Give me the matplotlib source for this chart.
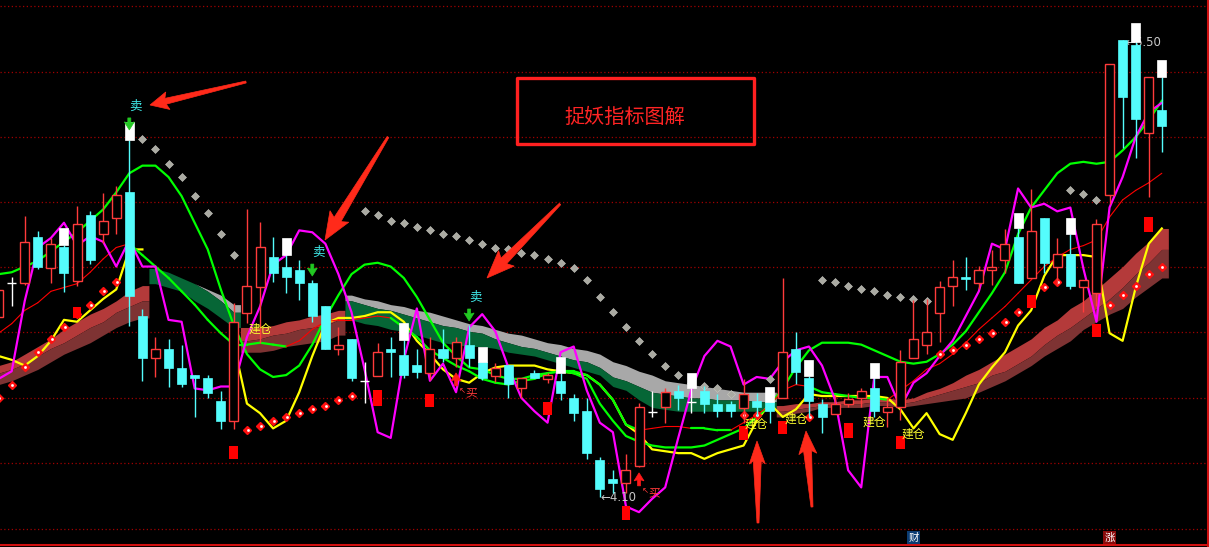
import numpy as np
import matplotlib
matplotlib.use("Agg")
import matplotlib.pyplot as plt
from matplotlib.patches import Rectangle, Polygon
from matplotlib.transforms import IdentityTransform

plt.rcParams['font.family'] = ['Noto Sans CJK SC', 'DejaVu Sans']

W, H, DPI = 1209, 547, 100

# ---------------- data (price units) ----------------
idx = np.arange(-1, 89)

opens = [5.047, 5.224, 5.224, 5.465, 5.302, 5.413, 5.234, 5.581, 5.481, 5.565,
         5.702, 5.050, 4.830, 4.877, 4.777, 4.740, 4.725, 4.604, 4.499, 5.066,
         5.203, 5.360, 5.308, 5.292, 5.224, 5.103, 4.877, 4.930, 4.709, 4.735,
         4.877, 4.846, 4.793, 4.751, 4.877, 4.830, 4.898, 4.809, 4.735, 4.793,
         4.672, 4.751, 4.719, 4.709, 4.620, 4.551, 4.294, 4.194, 4.173, 4.263,
         4.546, 4.572, 4.656, 4.599, 4.656, 4.588, 4.588, 4.567, 4.604, 4.599,
         4.620, 4.877, 4.725, 4.588, 4.536, 4.588, 4.620, 4.672, 4.546, 4.572,
         4.830, 4.898, 5.066, 5.208, 5.255, 5.224, 5.292, 5.344, 5.465, 5.250,
         5.565, 5.308, 5.376, 5.203, 5.171, 5.686, 6.500, 6.474, 6.011, 6.132]
highs = [5.197, 5.255, 5.576, 5.497, 5.460, 5.423, 5.628, 5.602, 5.696, 5.733,
         5.975, 5.087, 4.940, 4.930, 4.898, 4.740, 4.740, 4.656, 5.119, 5.612,
         5.544, 5.465, 5.371, 5.344, 5.239, 5.103, 4.993, 4.930, 4.809, 4.909,
         4.940, 4.924, 4.877, 4.940, 4.982, 4.940, 5.003, 4.809, 4.804, 4.793,
         4.725, 4.767, 4.751, 4.751, 4.641, 4.620, 4.310, 4.242, 4.326, 4.593,
         4.656, 4.672, 4.688, 4.672, 4.683, 4.641, 4.604, 4.719, 4.646, 4.599,
         5.250, 4.966, 4.735, 4.614, 4.635, 4.646, 4.672, 4.725, 4.620, 4.872,
         5.134, 5.140, 5.234, 5.344, 5.360, 5.313, 5.397, 5.507, 5.513, 5.717,
         5.565, 5.460, 5.481, 5.239, 5.560, 6.374, 6.500, 6.489, 6.306, 6.306]
lows = [5.040, 5.103, 5.213, 5.297, 5.224, 5.176, 5.208, 5.323, 5.434, 5.481,
        4.998, 4.709, 4.730, 4.677, 4.677, 4.520, 4.620, 4.457, 4.457, 5.014,
        4.909, 5.229, 5.171, 5.134, 5.019, 4.877, 4.846, 4.709, 4.593, 4.735,
        4.730, 4.725, 4.725, 4.714, 4.809, 4.783, 4.783, 4.714, 4.704, 4.620,
        4.620, 4.725, 4.698, 4.609, 4.499, 4.299, 4.100, 4.121, 4.121, 4.258,
        4.520, 4.488, 4.557, 4.541, 4.541, 4.520, 4.520, 4.488, 4.525, 4.488,
        4.620, 4.693, 4.520, 4.436, 4.536, 4.572, 4.572, 4.520, 4.467, 4.504,
        4.830, 4.851, 4.914, 5.103, 5.187, 5.192, 5.213, 5.276, 5.224, 5.250,
        5.276, 5.213, 5.192, 5.071, 5.103, 5.639, 5.933, 5.880, 5.675, 5.912]
closes = [5.187, 5.224, 5.439, 5.308, 5.429, 5.276, 5.534, 5.344, 5.549, 5.686,
          5.155, 4.830, 4.877, 4.777, 4.693, 4.725, 4.646, 4.499, 5.019, 5.208,
          5.413, 5.276, 5.255, 5.224, 5.050, 4.877, 4.898, 4.725, 4.709, 4.861,
          4.861, 4.740, 4.756, 4.877, 4.830, 4.914, 4.830, 4.725, 4.777, 4.693,
          4.725, 4.725, 4.740, 4.646, 4.541, 4.331, 4.142, 4.173, 4.242, 4.572,
          4.546, 4.651, 4.620, 4.599, 4.588, 4.551, 4.551, 4.641, 4.572, 4.551,
          4.861, 4.756, 4.604, 4.520, 4.588, 4.614, 4.656, 4.551, 4.572, 4.809,
          4.930, 4.966, 5.203, 5.255, 5.245, 5.292, 5.308, 5.429, 5.224, 5.497,
          5.329, 5.376, 5.208, 5.239, 5.534, 6.374, 6.201, 6.085, 6.306, 6.048]

# white overlay boxes
wb_idx = [4, 9, 21, 30, 36, 42, 52, 58, 61, 66, 77, 81, 86, 88]
wb_top = [5.513, 6.069, 5.460, 5.014, 4.888, 4.835, 4.751, 4.677, 4.819, 4.804, 5.591, 5.565, 6.589, 6.395]
wb_bot = [5.423, 5.975, 5.371, 4.924, 4.809, 4.751, 4.672, 4.599, 4.735, 4.725, 5.513, 5.481, 6.489, 6.306]

green_a = [5.27, 5.28, 5.31, 5.34, 5.39, 5.44, 5.49, 5.55, 5.61, 5.70,
           5.80, 5.84, 5.84, 5.78, 5.68, 5.54, 5.40, 5.19, 5.00, 4.85,
           4.77, 4.73, 4.74, 4.79, 4.90, 5.04, 5.16, 5.27, 5.32, 5.33,
           5.31, 5.25, 5.15, 5.03, 4.91, 4.84, 4.78, 4.77, 4.74, 4.72,
           4.72, 4.74, 4.75, 4.76, 4.75, 4.72, 4.59, 4.50, 4.42, 4.39,
           4.37, 4.36, 4.36, 4.36, 4.37, 4.40, 4.43, 4.46, 4.52, 4.58,
           4.67, 4.78, 4.87, 4.91, 4.91, 4.91, 4.90, 4.87, 4.84, 4.81,
           4.80, 4.81, 4.85, 4.90, 4.97, 5.07, 5.17, 5.28, 5.48, 5.62,
           5.71, 5.80, 5.85, 5.86, 5.85, 5.86, 5.92, 5.99, 6.08, 6.18]

trend_line = [4.96, 5.01, 5.08, 5.12, 5.18, 5.20, 5.22, 5.28, 5.35, 5.41,
              5.43, 5.37, 5.31, 5.25, 5.18, 5.11, 5.03, 4.96, 4.90, 4.90,
              4.91, 4.90, 4.89, 4.92, 4.98, 5.02, 5.03, 5.03, 5.04, 5.05,
              5.04, 4.99, 4.94, 4.87, 4.83, 4.79, 4.76, 4.72, 4.70, 4.69,
              4.71, 4.72, 4.75, 4.76, 4.76, 4.74, 4.69, 4.61, 4.48, 4.45,
              4.46, 4.47, 4.47, 4.46, 4.46, 4.45, 4.45, 4.49, 4.53, 4.58,
              4.66, 4.69, 4.68, 4.65, 4.64, 4.63, 4.62, 4.62, 4.61, 4.66,
              4.71, 4.77, 4.80, 4.85, 4.91, 4.98, 5.04, 5.10, 5.17, 5.24,
              5.31, 5.36, 5.40, 5.42, 5.45, 5.57, 5.66, 5.71, 5.75, 5.80]
trend_state = "r" * 10 + "g" * 13 + "r" * 7 + "g" * 20 + "r" * 3 + "g" * 4 + "r" * 5 + "g" * 7 + "r" * 21

magenta = [4.72, 4.76, 5.13, 5.41, 5.46, 5.54, 5.42, 5.47, 5.44, 5.31,
           5.45, 5.31, 5.31, 5.03, 5.02, 4.67, 4.66, 4.68, 4.68, 4.94,
           5.10, 5.32, 5.37, 5.50, 5.49, 5.43, 5.27, 5.07, 4.77, 4.44,
           4.41, 4.82, 5.09, 4.71, 4.80, 4.65, 4.99, 5.06, 4.97, 4.78,
           4.62, 4.55, 4.49, 4.86, 4.89, 4.66, 4.49, 4.44, 4.05, 4.02,
           4.09, 4.15, 4.41, 4.66, 4.84, 4.92, 4.89, 4.69, 4.73, 4.72,
           4.81, 4.87, 4.89, 4.79, 4.61, 4.24, 4.15, 4.73, 4.73, 4.57,
           4.70, 4.75, 4.84, 4.92, 5.05, 5.18, 5.43, 5.40, 5.72, 5.62,
           5.64, 5.60, 5.62, 5.30, 5.02, 5.62, 5.78, 5.99, 6.12, 6.17]

nan = np.nan
yellow = [4.84, 4.82, 4.79, 4.84, 4.92, 5.03, 5.02, 5.08, 5.14, 5.19,
          5.40, 5.40, nan, nan, nan, nan, nan, nan, 4.90, 4.59,
          4.54, 4.46, 4.50, 4.65, 4.84, 5.01, 5.04, 5.04, 5.05, 5.07,
          5.07, 5.02, 4.92, 4.85, 4.77, 4.72, 4.70, 4.75, 4.78, 4.79,
          4.79, 4.79, 4.77, 4.76, 4.75, 4.74, 4.69, 4.61, 4.48, 4.43,
          4.35, 4.34, 4.33, 4.33, 4.30, 4.33, 4.35, 4.37, 4.50, 4.59,
          4.52, 4.56, 4.64, 4.63, 4.63, 4.63, 4.63, 4.63, 4.62, 4.56,
          4.46, 4.54, 4.43, 4.40, 4.54, 4.69, 4.78, 4.86, 5.00, 5.08,
          5.26, 5.37, 5.37, 5.37, 5.36, 4.96, 4.92, 5.20, 5.43, 5.51]

band_top = [4.79, 4.81, 4.85, 4.89, 4.93, 4.98, 5.02, 5.06, 5.09, 5.13,
            5.18, 5.21, 5.30, 5.28, 5.25, 5.22, 5.19, 5.16, 5.11, 4.99,
            4.99, 5.00, 5.02, 5.03, 5.05, 5.06, 5.08, 5.16, 5.14, 5.13,
            5.11, 5.10, 5.08, 5.07, 5.05, 5.03, 5.01, 5.00, 4.98, 4.96,
            4.95, 4.93, 4.91, 4.90, 4.88, 4.87, 4.85, 4.81, 4.79, 4.76,
            4.74, 4.71, 4.70, 4.69, 4.68, 4.67, 4.66, 4.65, 4.65, 4.65,
            4.58, 4.59, 4.59, 4.60, 4.60, 4.61, 4.61, 4.62, 4.62, 4.61,
            4.62, 4.65, 4.67, 4.70, 4.74, 4.77, 4.81, 4.85, 4.89, 4.93,
            4.99, 5.03, 5.09, 5.13, 5.19, 5.25, 5.31, 5.38, 5.44, 5.51]
band_mid = [4.75, 4.77, 4.80, 4.84, 4.88, 4.91, 4.95, 4.99, 5.02, 5.07,
            5.10, 5.13, 5.30, 5.28, 5.25, 5.22, 5.18, 5.13, 5.07, 4.92,
            4.93, 4.95, 4.96, 4.98, 4.99, 5.00, 5.03, 5.13, 5.11, 5.09,
            5.08, 5.06, 5.04, 5.02, 5.00, 4.99, 4.97, 4.96, 4.93, 4.91,
            4.89, 4.88, 4.86, 4.84, 4.82, 4.81, 4.78, 4.73, 4.71, 4.68,
            4.65, 4.64, 4.63, 4.62, 4.62, 4.61, 4.61, 4.61, 4.60, 4.60,
            4.55, 4.56, 4.57, 4.58, 4.59, 4.59, 4.59, 4.60, 4.60, 4.59,
            4.60, 4.62, 4.64, 4.66, 4.68, 4.70, 4.74, 4.76, 4.80, 4.84,
            4.90, 4.95, 4.99, 5.04, 5.09, 5.14, 5.20, 5.27, 5.33, 5.40]
band_bot = [4.69, 4.71, 4.74, 4.77, 4.81, 4.85, 4.88, 4.91, 4.95, 4.99,
            5.02, 5.04, 5.22, 5.20, 5.18, 5.13, 5.09, 5.04, 4.99, 4.86,
            4.86, 4.87, 4.89, 4.90, 4.91, 4.92, 4.95, 5.03, 5.01, 5.00,
            4.98, 4.97, 4.95, 4.93, 4.91, 4.90, 4.89, 4.89, 4.88, 4.86,
            4.85, 4.84, 4.82, 4.80, 4.78, 4.76, 4.74, 4.68, 4.66, 4.61,
            4.57, 4.56, 4.55, 4.55, 4.55, 4.55, 4.55, 4.55, 4.55, 4.56,
            4.52, 4.54, 4.55, 4.57, 4.57, 4.57, 4.57, 4.58, 4.58, 4.57,
            4.58, 4.59, 4.60, 4.61, 4.62, 4.65, 4.68, 4.71, 4.75, 4.79,
            4.84, 4.88, 4.92, 4.98, 5.02, 5.06, 5.09, 5.15, 5.20, 5.25]
band_state = "u" * 12 + "d" * 7 + "u" * 8 + "d" * 33 + "u" * 30

gray_idx = [10, 11, 12, 13, 14, 15, 16, 17] + list(range(27, 56)) + [58] + list(range(62, 71)) + [81, 82, 83]
gray_val = [5.98, 5.93, 5.85, 5.78, 5.68, 5.59, 5.48, 5.37,
            5.60, 5.58, 5.55, 5.54, 5.52, 5.50, 5.48, 5.47, 5.45, 5.43,
            5.41, 5.40, 5.38, 5.37, 5.35, 5.33, 5.30, 5.24, 5.15, 5.07,
            4.99, 4.92, 4.85, 4.79, 4.74, 4.70, 4.68, 4.67, 4.64,
            4.72,
            5.24, 5.23, 5.21, 5.19, 5.18, 5.16, 5.15, 5.14, 5.13,
            5.71, 5.69, 5.66]
red_idx = list(range(-1, 9)) + list(range(18, 27)) + [56, 57, 61] + list(range(71, 81)) + list(range(84, 89))
red_val = [4.62, 4.69, 4.78, 4.86, 4.93, 4.99, 5.06, 5.11, 5.18, 5.23,
           4.45, 4.47, 4.50, 4.52, 4.54, 4.56, 4.58, 4.61, 4.63,
           4.53, 4.53, 4.52,
           4.85, 4.87, 4.90, 4.93, 4.96, 5.02, 5.07, 5.13, 5.20, 5.23,
           5.11, 5.16, 5.21, 5.27, 5.31]

sq_idx = [5, 17, 28, 32, 41, 47, 56, 59, 64, 68, 78, 83, 87]
sq_top = [5.10, 4.37, 4.66, 4.64, 4.60, 4.05, 4.47, 4.50, 4.49, 4.42, 5.16, 5.01, 5.57]
sq_bot = [5.04, 4.30, 4.58, 4.57, 4.53, 3.98, 4.40, 4.43, 4.41, 4.35, 5.09, 4.94, 5.49]

sell_idx = [9, 23, 35]
buy_idx = [34, 48]
build_idx = [19, 57, 60, 66, 69]
build_price = [4.98, 4.48, 4.51, 4.49, 4.43]
low_mark = (45, 4.10, "←4.10")
high_mark = (85, 6.50, "←6.50")
event_marks = [(69, "财", "#0b3c72"), (84, "涨", "#8a0c0c")]
grid_levels = [6.678, 6.334, 5.992, 5.651, 5.308, 4.965, 4.620, 4.276, 3.932]
title_text = "捉妖指标图解"

# ---------------- figure ----------------
fig = plt.figure(figsize=(W / DPI, H / DPI), dpi=DPI, facecolor="black")
ax = fig.add_axes([0, 0, 1, 1])
ax.set_facecolor("black")
ax.set_xlim(-0.895, 91.61)
ax.set_ylim(3.837, 6.71)
ax.axis("off")

for g in grid_levels:
    ax.axhline(g, color="#a00000", lw=0.9, ls=(0, (1, 2)), zorder=0.5)
ax.axhline(3.848, color="#d01010", lw=1.5, zorder=8)
ax.axvline(91.51, color="#d01010", lw=1.5, zorder=8)

# ribbon band
def runs(states):
    out, s = [], 0
    for k in range(1, len(states) + 1):
        if k == len(states) or states[k] != states[s]:
            out.append((s, k - 1, states[s]))
            s = k
    return out

bt, bm, bb = map(np.array, (band_top, band_mid, band_bot))
for a, b, s in runs(band_state):
    xs = np.concatenate([[idx[a] - 0.5], idx[a:b + 1], [idx[b] + 0.5]])
    ext = lambda arr: np.concatenate([[arr[a]], arr[a:b + 1], [arr[b]]])
    c1, c2 = ("#b43a3a", "#7e3333") if s == "u" else ("#a8a8a8", "#066636")
    ax.fill_between(xs, ext(bm), ext(bt), color=c1, lw=0, zorder=1)
    ax.fill_between(xs, ext(bb), ext(bm), color=c2, lw=0, zorder=1)

# lines
ax.plot(idx, yellow, color="#ffff00", lw=1.6, zorder=2)
ax.plot(idx, green_a, color="#00ff00", lw=1.6, zorder=2.2)
tl = np.array(trend_line)
for k in range(len(idx) - 1):
    g = trend_state[k] == "g" and trend_state[k + 1] == "g"
    ax.plot(idx[k:k + 2], tl[k:k + 2], color="#00ff00" if g else "#ff0000",
            lw=1.6 if g else 0.8, zorder=2.3, solid_capstyle="round")
ax.plot(idx, magenta, color="#ff00ff", lw=1.6, zorder=2.5)

# dots
ax.plot(gray_idx, gray_val, ls="none", marker="D", ms=3.6, color="#aaaaa2", mec="#c8c8c0", mew=0.4, zorder=3)
ax.plot(red_idx, red_val, ls="none", marker="D", ms=3.8, color="#ff1010", mec="#ff1010", zorder=3)
ax.plot(np.array(red_idx) + 0.05, np.array(red_val), ls="none", marker="s", ms=0.9, color="white", zorder=3.1)

# candles
w = 0.69
RED, CYAN = "#ff3b3b", "#54fcfc"
for i, o, h, l, c in zip(idx, opens, highs, lows, closes):
    if c > o:
        ax.vlines(i, l, h, color=RED, lw=1, zorder=4)
        ax.add_patch(Rectangle((i - w / 2, o), w, c - o, fc="black", ec=RED, lw=1, zorder=4.1))
    elif c < o:
        ax.vlines(i, l, h, color=CYAN, lw=1, zorder=4)
        ax.add_patch(Rectangle((i - w / 2, c), w, o - c, fc=CYAN, ec=CYAN, lw=0.5, zorder=4.1))
    else:
        ax.vlines(i, l, h, color="white", lw=1, zorder=4)
        ax.hlines(o, i - w / 2, i + w / 2, color="white", lw=1, zorder=4.1)
for i, t, b in zip(wb_idx, wb_top, wb_bot):
    ax.add_patch(Rectangle((i - w / 2, b), w, t - b, fc="white", ec="white", lw=0.5, zorder=4.5))
for i, t, b in zip(sq_idx, sq_top, sq_bot):
    ax.add_patch(Rectangle((i - 0.34, b), 0.68, t - b, fc="#ff0000", ec="none", zorder=5))

# ---------- helpers for pixel-space shapes ----------
def arrow_poly(tail, tip, w0, w1, hl, hw, color, z=6):
    tail = np.asarray(tail, float); tip = np.asarray(tip, float)
    d = tip - tail; L = np.hypot(*d); u = d / L; n = np.array([-u[1], u[0]])
    base = tip - u * hl
    barb = base - u * hl * 0.15
    pts = [tail + n * w0 / 2, base + n * w1 / 2, barb + n * hw, tip,
           barb - n * hw, base - n * w1 / 2, tail - n * w0 / 2]
    fig.add_artist(Polygon(pts, closed=True, fc=color, ec=color, lw=0.5,
                           transform=IdentityTransform(), zorder=z))

def dpx(x, y):
    return ax.transData.transform((x, y))

def img(x, y):
    return (x, H - y)

fig.canvas.draw()

# sell signals
for i in sell_idx:
    hx, hy = dpx(i, highs[i + 1])
    up = 6 if i == 9 else 0
    arrow_poly((hx, hy + 16 + up), (hx, hy + 4 + up), 3, 3, 7, 5, "#22c822")
    ax.annotate("卖", xy=(i, highs[i + 1]), xytext=(6, 28 + up), textcoords="offset pixels",
                ha="center", va="center", color="#40ecec", fontsize=9, zorder=6)
# buy signals
for i in buy_idx:
    lx, ly = dpx(i, lows[i + 1])
    arrow_poly((lx, ly - 19), (lx, ly - 6), 3, 3, 7, 5, "#ff1a1a")
    ax.annotate("买", xy=(i, lows[i + 1]), xytext=(15, -26), textcoords="offset pixels",
                ha="center", va="center", color="#ff3a3a", fontsize=8.5, zorder=6)
    ax.annotate("↖", xy=(i, lows[i + 1]), xytext=(6, -24), textcoords="offset pixels",
                ha="center", va="center", color="#ff3a3a", fontsize=6, zorder=6,
                family="DejaVu Sans")
for i, p in zip(build_idx, build_price):
    ax.text(i, p, "建仓", ha="center", va="center", color="#ffff30", fontsize=8.5, zorder=6)

ax.annotate(low_mark[2], xy=(low_mark[0], low_mark[1]), xytext=(1, -1), textcoords="offset pixels",
            ha="left", va="center", color="#c8c8c8", fontsize=8.5, family="DejaVu Sans", zorder=3.5)
ax.annotate(high_mark[2], xy=(high_mark[0], high_mark[1]), xytext=(3, -3), textcoords="offset pixels",
            ha="left", va="center", color="#c8c8c8", fontsize=8.5, family="DejaVu Sans", zorder=3.5)

for i, ch, bg in event_marks:
    ax.text(i, 0.017, ch, transform=ax.get_xaxis_transform(), ha="center", va="center",
            color="white", fontsize=7.5, zorder=9,
            bbox=dict(boxstyle="square,pad=0.12", fc=bg, ec="none"))

# annotation box and big arrows (drawn in image pixel space)
x0, y0 = img(517, 144)
fig.add_artist(Rectangle((x0, y0), 754 - 517, 144 - 78, fill=False, ec="#ff2020", lw=2.4,
                         joinstyle="round", transform=IdentityTransform(), zorder=7))
tx, ty = img(624.5, 117.5)
fig.text(tx / W, ty / H, title_text, ha="center", va="center", color="#ff2424", fontsize=14.5, zorder=7)

AR = "#ff2a1a"
arrow_poly(img(246, 82), img(150, 105), 2, 6, 16, 9, AR, 7)
arrow_poly(img(388, 137), img(325, 240), 2, 8, 24, 11, AR, 7)
arrow_poly(img(560, 204), img(487, 278), 2, 8, 24, 11, AR, 7)
arrow_poly(img(758, 523), img(757, 441), 2, 8, 20, 8, AR, 7)
arrow_poly(img(812, 507), img(806, 431), 2, 8, 20, 9, AR, 7)

fig.savefig("out.png", dpi=DPI, facecolor="black")
